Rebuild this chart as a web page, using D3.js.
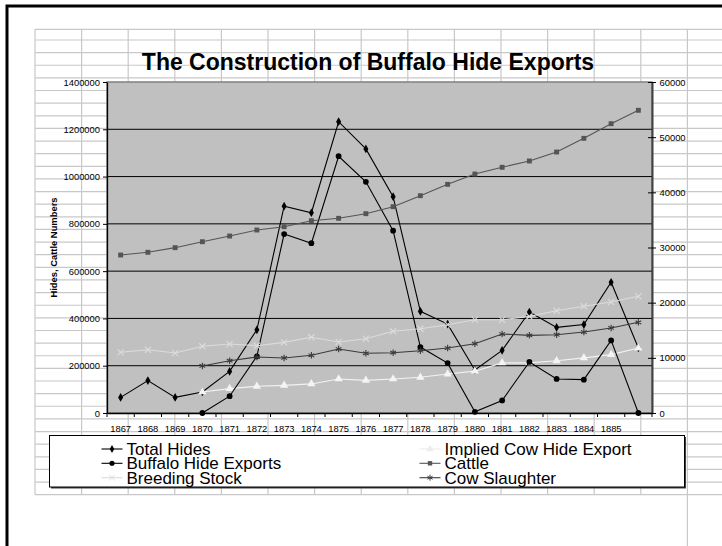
<!DOCTYPE html>
<html>
<head>
<meta charset="utf-8">
<script src="https://cdn.jsdelivr.net/npm/d3@7"></script>
<style>
  html, body { margin: 0; padding: 0; background: #fff; }
  svg { display: block; font-family: "Liberation Sans", Arial, sans-serif; }
</style>
</head>
<body>
<svg id="chart" width="722" height="546"></svg>
<script>
// Years on the category axis (last slot carries no label)
const years = [1867, 1868, 1869, 1870, 1871, 1872, 1873, 1874, 1875, 1876,
               1877, 1878, 1879, 1880, 1881, 1882, 1883, 1884, 1885, 1886];
const yearLabels = ["1867", "1868", "1869", "1870", "1871", "1872", "1873", "1874", "1875", "1876",
                    "1877", "1878", "1879", "1880", "1881", "1882", "1883", "1884", "1885", ""];

// Hides (left axis)
const totalHides = [66000, 137000, 66000, 89000, 176000, 352000, 875000, 847000, 1232000, 1117000,
                    915000, 430000, 376000, 182000, 265000, 427000, 362000, 374000, 553000, 275000];
const impliedCowHides = [null, null, null, 89000, 103000, 113000, 117000, 123000, 144000, 138000,
                         144000, 151000, 165000, 177000, 212000, 212000, 221000, 233000, 247000, 275000];
const buffaloHides = [null, null, null, 0, 71000, 240000, 757000, 718000, 1086000, 978000,
                      771000, 279000, 211000, 5000, 53000, 216000, 144000, 141000, 307000, 0];

// Cattle numbers in thousands (right axis)
const cattle = [28640, 29130, 29970, 31050, 32080, 33170, 33770, 34860, 35290, 36130,
                37400, 39390, 41450, 43320, 44540, 45680, 47310, 49790, 52440, 54870];
const breedingStock = [11000, 11470, 10880, 12090, 12510, 12200, 12810, 13720, 12870, 13470,
                       14810, 15280, 16010, 16910, 16910, 17520, 18540, 19340, 20120, 21150];
const cowSlaughter = [null, null, null, 8520, 9480, 10150, 9970, 10460, 11600, 10820,
                      10930, 11290, 11780, 12560, 14320, 14080, 14190, 14680, 15410, 16440];

// Axis ticks
const leftTicks = [0, 200000, 400000, 600000, 800000, 1000000, 1200000, 1400000];
const rightTicks = [0, 10000, 20000, 30000, 40000, 50000, 60000];

const series = [
  { name: "Total Hides", values: totalHides, axis: "L", color: "#000000", fill: "#000000", symbol: d3.symbolDiamond, size: 22, stroke: false },
  { name: "Implied Cow Hide Export", values: impliedCowHides, axis: "L", color: "#f2f2f2", fill: "#f4f4f4", symbol: d3.symbolTriangle, size: 30, stroke: false },
  { name: "Buffalo Hide Exports", values: buffaloHides, axis: "L", color: "#000000", fill: "#000000", symbol: d3.symbolCircle, size: 26, stroke: false },
  { name: "Cattle", values: cattle, axis: "R", color: "#555555", fill: "#555555", symbol: d3.symbolSquare, size: 24, stroke: false },
  { name: "Breeding Stock", values: breedingStock, axis: "R", color: "#dcdcdc", fill: "none", symbol: d3.symbolTimes, size: 26, stroke: true },
  { name: "Cow Slaughter", values: cowSlaughter, axis: "R", color: "#3a3a3a", fill: "none", symbol: d3.symbolAsterisk, size: 30, stroke: true }
];

const svg = d3.select("#chart");
const W = 722, H = 546;

// ---- worksheet backdrop: cell grid and window frame ----
const back = svg.append("g");
const colLines = d3.range(15).map(i => 35 + i * 46.6);
const rowLines = [29.3].concat(d3.range(37).map(i => 40 + i * 12.63));
back.selectAll("line.row").data(rowLines).join("line")
  .attr("x1", 35).attr("x2", W).attr("y1", d => d).attr("y2", d => d)
  .attr("stroke", "#c8c8c8").attr("stroke-width", 1.2);
back.selectAll("line.col").data(colLines).join("line")
  .attr("x1", d => d).attr("x2", d => d)
  .attr("y1", 29.3).attr("y2", (d, i) => i === colLines.length - 1 ? H : 494.7)
  .attr("stroke", "#c8c8c8").attr("stroke-width", 1.2);
back.append("path").attr("d", `M7,${H} V6 H${W}`)
  .attr("fill", "none").attr("stroke", "#000").attr("stroke-width", 3);

// ---- plot area ----
const plot = { left: 107, right: 652, top: 82, bottom: 413 };

const x = d3.scaleBand().domain(years).range([plot.left, plot.right]);
const yL = d3.scaleLinear().domain([0, 1400000]).range([plot.bottom, plot.top]);
const yR = d3.scaleLinear().domain([0, 60000]).range([plot.bottom, plot.top]);

svg.append("rect")
  .attr("x", plot.left).attr("y", plot.top)
  .attr("width", plot.right - plot.left).attr("height", plot.bottom - plot.top)
  .attr("fill", "#c0c0c0").attr("stroke", "#808080").attr("stroke-width", 1.5);

// Major gridlines from the left axis
svg.append("g").selectAll("line").data(leftTicks.filter(v => v > 0 && v < 1400000)).join("line")
  .attr("x1", plot.left).attr("x2", plot.right)
  .attr("y1", d => yL(d)).attr("y2", d => yL(d))
  .attr("stroke", "#000").attr("stroke-width", 1);

// ---- axes ----
const fmt = d3.format("d");
const axisFont = "9.4px";

const gL = svg.append("g").attr("transform", `translate(${plot.left},0)`)
  .call(d3.axisLeft(yL).tickValues(leftTicks).tickFormat(fmt).tickSizeInner(4).tickSizeOuter(0).tickPadding(3));
gL.select(".domain").attr("stroke", "#000").attr("stroke-width", 1.3);
gL.selectAll(".tick line").attr("stroke", "#000");
gL.selectAll("text").attr("font-size", axisFont).attr("fill", "#000").attr("font-family", "Liberation Sans, Arial, sans-serif");

const gR = svg.append("g").attr("transform", `translate(${plot.right},0)`)
  .call(d3.axisRight(yR).tickValues(rightTicks).tickFormat(fmt).tickSizeInner(4).tickSizeOuter(0).tickPadding(3.5));
gR.select(".domain").attr("stroke", "#404040").attr("stroke-width", 2);
gR.selectAll(".tick line").attr("x1", -4).attr("stroke", "#000");
gR.selectAll("text").attr("font-size", axisFont).attr("fill", "#000").attr("font-family", "Liberation Sans, Arial, sans-serif");

const gB = svg.append("g").attr("transform", `translate(0,${plot.bottom})`)
  .call(d3.axisBottom(x).tickFormat((d, i) => yearLabels[i]).tickSize(0).tickPadding(12));
gB.select(".domain").attr("stroke", "#000").attr("stroke-width", 1.3);
gB.selectAll("text").attr("font-size", axisFont).attr("fill", "#000").attr("font-family", "Liberation Sans, Arial, sans-serif");
// tick marks sit on the category boundaries
gB.selectAll("line.boundary").data(years.concat([null])).join("line")
  .attr("class", "boundary")
  .attr("x1", d => d === null ? plot.right : x(d))
  .attr("x2", d => d === null ? plot.right : x(d))
  .attr("y1", 0).attr("y2", 4).attr("stroke", "#000");

// Axis title
svg.append("text")
  .attr("transform", `translate(57,${(plot.top + plot.bottom) / 2}) rotate(-90)`)
  .attr("text-anchor", "middle")
  .attr("font-size", "9.4px").attr("font-weight", "bold")
  .text("Hides, Cattle Numbers");

// Chart title
svg.append("text")
  .attr("x", 368).attr("y", 70)
  .attr("text-anchor", "middle")
  .attr("font-size", "23px").attr("font-weight", "bold")
  .text("The Construction of Buffalo Hide Exports");

// ---- series ----
const cx = i => x(years[i]) + x.bandwidth() / 2;
series.forEach(s => {
  const yS = s.axis === "L" ? yL : yR;
  const line = d3.line()
    .defined(d => d !== null)
    .x((d, i) => cx(i))
    .y(d => yS(d));
  svg.append("path")
    .datum(s.values)
    .attr("d", line)
    .attr("fill", "none")
    .attr("stroke", s.color)
    .attr("stroke-width", 1.1);
  const pts = s.values.map((v, i) => ({ v, i })).filter(p => p.v !== null);
  svg.append("g").selectAll("path").data(pts).join("path")
    .attr("transform", p => `translate(${cx(p.i)},${yS(p.v)})`)
    .attr("d", d3.symbol().type(s.symbol).size(s.size))
    .attr("fill", s.fill)
    .attr("stroke", s.stroke ? s.color : "none")
    .attr("stroke-width", 1.1);
});

// ---- legend ----
const legend = svg.append("g");
legend.append("rect").attr("x", 51).attr("y", 437).attr("width", 635).attr("height", 51.5).attr("fill", "#404040");
legend.append("rect").attr("x", 49.5).attr("y", 435.5).attr("width", 635).attr("height", 51.5)
  .attr("fill", "#fff").attr("stroke", "#000").attr("stroke-width", 1);

const legendCols = [101.5, 419.5];
const legendRows = [449, 463.3, 477.7];
series.forEach((s, k) => {
  const col = k % 2, row = Math.floor(k / 2);
  const lx = legendCols[col], ly = legendRows[row];
  const g = legend.append("g");
  g.append("line").attr("x1", lx).attr("x2", lx + 21).attr("y1", ly).attr("y2", ly)
    .attr("stroke", s.color === "#f2f2f2" ? "#ececec" : s.color).attr("stroke-width", 1.1);
  g.append("path")
    .attr("transform", `translate(${lx + 10.5},${ly})`)
    .attr("d", d3.symbol().type(s.symbol).size(s.size * 0.8))
    .attr("fill", s.fill === "#f4f4f4" ? "#ececec" : s.fill)
    .attr("stroke", s.stroke ? s.color : "none");
  g.append("text").attr("x", lx + 25).attr("y", ly + 5.8)
    .attr("font-size", "17px")
    .text(s.name);
});
</script>
</body>
</html>
